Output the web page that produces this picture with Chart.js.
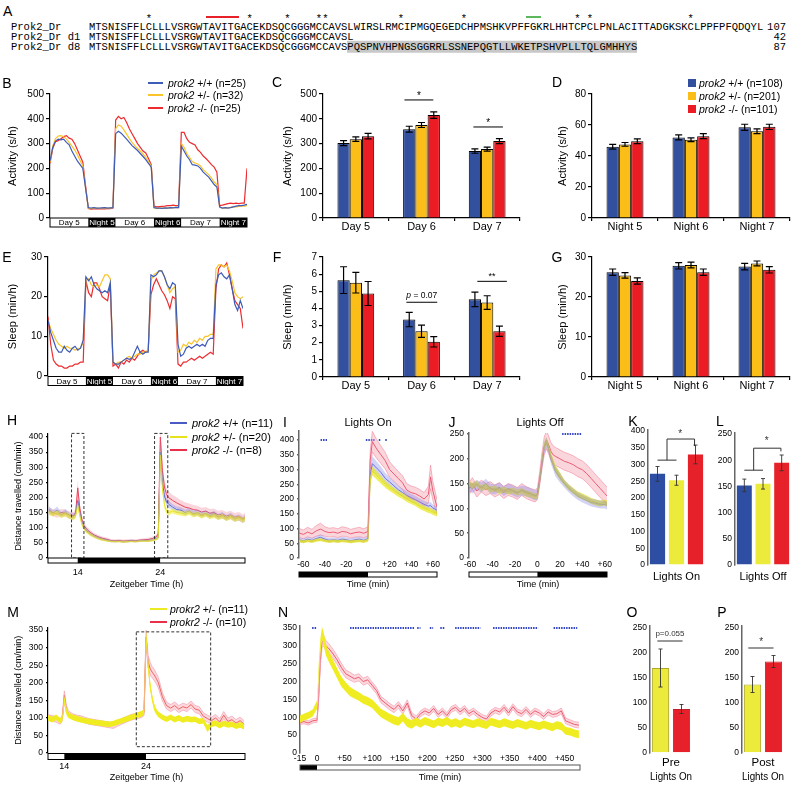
<!DOCTYPE html>
<html>
<head>
<meta charset="utf-8">
<script src="https://cdn.jsdelivr.net/npm/chart.js"></script>
<style>
html, body { margin: 0; padding: 0; background: #fff; }
#fig { position: relative; width: 800px; height: 791px; overflow: hidden; font-family: 'Liberation Sans', Arial, sans-serif; color: #000; }
#fig canvas { position: absolute; }
.t { position: absolute; white-space: nowrap; line-height: 1; }
.seq { position: absolute; font-family: 'Liberation Mono', monospace; font-size: 10.5px; white-space: pre; line-height: 1; transform: translate(0, -50%); }
.sw { position: absolute; }
</style>
</head>
<body>
<div id="fig"></div>
<script>
// ---------- panel A: sequence alignment ----------
const seqNames = ['Prok2_Dr', 'Prok2_Dr d1', 'Prok2_Dr d8'];
const seqRows = [
  'MTSNISFFLCLLLVSRGWTAVITGACEKDSQCGGGMCCAVSLWIRSLRMCIPMGQEGEDCHPMSHKVPFFGKRLHHTCPCLPNLACITTADGKSKCLPPFPFQDQYL',
  'MTSNISFFLCLLLVSRGWTAVITGACEKDSQCGGGMCCAVSL',
  'MTSNISFFLCLLLVSRGWTAVITGACEKDSQCGGGMCCAVSPQSPNVHPNGSGGRRLSSNEPQGTLLWKETPSHVPLLTQLGMHHYS'
];
const seqLens = ['107', '42', '87'];
const greyFrom = [null, null, 41];
const starIdx = [9, 25, 31, 36, 37, 49, 59, 77, 79, 95];
const redMark = [18.6, 23.8];
const greenMark = [69.3, 71.8];

// ---------- B / E: activity and sleep traces (hourly) ----------
const hours = Array.from({ length: 73 }, (_, i) => i);
const bBlue = [230,285,310,318,315,318,305,295,270,250, 230,215,200,120,42,40,42,40,40,41, 42,40,41,42,340,350,342,330,318,305, 292,282,272,260,248,235,220,205,42,40, 40,39,41,40,42,41,43,42,290,270, 250,235,215,213,210,200,185,175,165,150, 135,125,45,40,42,40,42,45,48,50, 50,52,55];
const bYel = [225,290,320,330,332,328,318,305,290,275, 255,232,210,120,40,38,40,40,39,40, 41,40,40,42,360,375,370,355,338,320, 305,292,280,270,258,245,228,210,40,38, 40,40,39,41,40,42,43,42,300,285, 260,245,228,222,218,210,195,185,175,162, 145,135,42,40,40,42,43,45,45,47, 48,48,50];
const bRed = [220,280,308,312,320,328,332,322,318,300, 275,250,225,130,38,36,37,38,37,38, 37,38,38,40,395,410,400,405,385,360, 340,320,300,285,270,262,240,215,48,45, 46,47,48,50,50,52,50,50,345,345, 320,305,300,295,275,265,250,240,228,215, 205,185,50,52,55,58,60,58,60,58, 60,60,200];
const eBlue = [14,11,9,7,6,6,7.5,6.5,6,7, 7.5,6.5,7,9,25,24,25,23,22,21.5, 21,21.5,21,23.5,3.5,3,3,3.5,4,4.5, 4.2,4.5,6,7.5,6,5.5,6,6,25.5,25, 25.5,26.5,26.5,25,23,22,23.5,23,8,5, 5.5,7,7.5,7,7.5,8,7.5,8,7.5,9, 9.5,9.5,23,25.5,26,25,24.5,25.5,22,18, 16.5,19,17];
const eYel = [14,12,10.5,9,8,7.5,7,7.5,7,7, 6.5,7,7,8.5,24,24.5,23,22.5,23,22.5, 24,25.5,25.5,24.5,3.5,3,3.5,3.5,4,4.5, 5,4.5,5,5.5,5.5,6,6,6.5,24,25.5, 26,26.5,26.5,25,23,21,22,22.5,6,6.5, 8,7.5,8.5,8,9,8.5,9.5,9,10,10, 10.5,10.5,27,28,28,27.5,28,26.5,24,21, 20,19.5,20];
const eRed = [15,8,4,3,2.5,2.5,2,2,2.5,2.5, 3,3,3.5,3.5,24,21,20,23.5,23.5,22, 20,19.5,19,23,2.5,3,2,3.5,3,4, 3.5,4.5,4,5,6,6.5,6,6.5,20.5,23, 24.5,23,21.5,20.5,19,17,20,19.5,3,2.5, 3.5,3.5,4,4.5,4,4.5,5,4.5,5,5.5, 6,5.5,22,27,28,27.5,28.5,25.5,22,19, 18,17,12];
const dnEdges = [0, 14, 24, 38, 48, 62, 72];
const dnNames = ['Day 5', 'Night 5', 'Day 6', 'Night 6', 'Day 7', 'Night 7'];
const dnDark = [false, true, false, true, false, true];

// ---------- C / D / F / G: grouped bars ----------
const dayCats = ['Day 5', 'Day 6', 'Day 7'];
const nightCats = ['Night 5', 'Night 6', 'Night 7'];
const cWt = [302, 358, 270], cHet = [318, 375, 278], cMut = [330, 415, 310];
const cWtE = [10, 12, 9], cHetE = [9, 10, 8], cMutE = [11, 13, 10];
const dWt = [46, 52, 58.5], dHet = [47.5, 50.5, 56], dMut = [49.5, 52.8, 58.8];
const dWtE = [1.5, 1.6, 2], dHetE = [1.2, 1.2, 1.5], dMutE = [1.5, 1.6, 1.7];
const fWt = [5.65, 3.35, 4.53], fHet = [5.5, 2.67, 4.34], fMut = [4.87, 2.05, 2.67];
const fWtE = [0.78, 0.42, 0.42], fHetE = [0.6, 0.36, 0.4], fMutE = [0.7, 0.3, 0.3];
const gWt = [26.2, 27.8, 27.6], gHet = [25.4, 28, 28.4], gMut = [24, 26.2, 26.8];
const gWtE = [0.8, 0.8, 0.8], gHetE = [0.7, 0.7, 0.6], gMutE = [0.8, 0.8, 0.8];

// ---------- H: whole-night locomotion (ZT) ----------
const hX = [10.5,11,11.5,12,12.5,13,13.5,13.75,14,14.25,14.5,14.75,15,15.5,16,16.5,17,17.5,18,18.5,19,19.5,20,20.5,21,21.5,22,22.5,23,23.5,23.75,24,24.25,24.5,24.75,25,25.5,26,26.5,27,27.5,28,28.5,29,29.5,30,30.5,31,31.5,32,32.5,33,33.5,34,34.25];
const hBlue = [160,148,158,142,152,140,138,145,190,150, 118,102,92,80,72,66,62,59,56,55, 56,54,55,57,55,57,58,57,60,64, 68,350,250,205,185,178,168,160,158,150, 156,146,150,142,148,140,146,136,142,132, 140,130,134,126,132];
const hYel = [150,145,150,140,145,138,132,140,175,140, 112,98,88,78,70,64,60,57,55,54, 55,53,54,55,54,56,56,56,58,62, 66,340,230,175,155,150,155,150,148,145, 150,142,146,138,144,136,140,134,138,130, 136,128,132,125,130];
const hRed = [155,150,145,150,148,142,140,150,232,165, 128,108,98,85,76,70,65,62,58,57, 58,56,57,58,57,59,60,61,64,70, 80,400,290,235,210,200,190,182,175,168, 165,160,158,152,155,148,150,142,145,138, 142,135,138,130,135];
const hSemB = [12,10,12,10,10,10,10,10,15,12, 10,8,7,6,5,5,5,4,4,4, 4,4,4,4,4,4,4,4,5,5, 6,30,20,15,12,12,10,10,10,10, 10,10,10,10,10,10,10,10,10,10, 10,10,10,10,10];
const hSemY = [8,8,8,8,8,8,8,8,12,10, 8,6,5,5,4,4,4,3,3,3, 3,3,3,3,3,3,3,3,4,4, 5,22,15,12,10,9,8,8,8,8, 8,8,8,8,8,8,8,8,8,8, 8,8,8,8,8];
const hSemR = [12,12,12,12,12,12,12,12,25,15, 12,10,9,8,7,6,6,6,5,5, 5,5,5,5,5,5,5,6,6,7, 8,40,30,25,20,20,18,18,16,16, 15,15,15,14,14,14,14,14,14,14, 14,14,14,14,14];
const hBoxes = [[13.25, 14.75, 0, 412], [23.3, 24.9, 0, 412]];

// ---------- I: lights on window ----------
const iX = [-64,-60,-56,-52,-48,-44,-40,-36,-32,-28,-24,-20,-16,-12,-8,-4,0,2,4,8,12,16,20,24,28,32,36,40,44,48,52,56,58,60,64];
const iRed = [85,80,88,82,92,98,90,86,88,84, 90,88,82,86,88,84,90,330,395,370, 350,330,300,285,270,255,230,222,218,210, 200,215,275,230,172];
const iBlue = [62,58,64,60,66,70,64,60,62,60, 64,62,58,62,64,60,66,280,320,305, 290,270,258,245,232,222,212,205,198,190, 182,176,178,170,162];
const iYel = [58,55,58,56,60,62,58,56,58,56, 58,57,55,57,58,56,60,260,295,280, 265,250,238,228,218,210,200,192,185,175, 168,162,160,156,150];
const iSemR = [15,15,16,15,18,20,16,15,15,15, 16,15,15,15,16,15,16,30,35,32, 30,28,26,25,24,24,22,22,22,22, 22,28,40,32,25];
const iSemB = [8,8,8,8,8,10,8,8,8,8, 8,8,8,8,8,8,8,20,25,22, 20,18,16,15,14,14,14,13,13,12, 12,12,12,12,12];
const iSemY = [5,5,5,5,5,5,5,5,5,5, 5,5,5,5,5,5,5,12,15,14, 13,12,11,10,10,10,10,9,9,9, 9,9,9,9,9];
const iSig = [[-44, -38], [-2, 6], [10, 12], [16, 18]];
const iTicks = [-60, -40, -20, 0, 20, 40, 60];
const iTickText = ['-60', '-40', '-20', '0', '+20', '+40', '+60'];

// ---------- J: lights off window ----------
const jX = [-61,-58,-54,-50,-46,-42,-38,-34,-30,-26,-22,-18,-14,-10,-6,-2,0,2,4,6,8,10,12,14,16,20,24,28,32,36,40,44,48,52,56,60,62];
const jRed = [140,150,135,145,138,142,135,140,132,138, 135,130,138,132,128,125,130,160,195,225, 238,228,215,208,205,200,195,192,188,182, 178,170,160,150,140,130,125];
const jBlue = [145,140,148,142,150,140,138,142,135,140, 136,132,136,134,130,126,128,155,190,222, 232,220,200,188,175,162,150,140,132,125, 120,116,112,110,108,108,106];
const jYel = [150,145,150,140,145,138,140,135,138,134, 136,132,135,130,128,124,126,155,192,225, 235,222,205,192,180,165,152,142,135,128, 124,120,115,112,110,112,110];
const jSemR = [12,12,12,12,12,12,12,12,12,12, 12,12,12,12,12,12,12,14,16,18, 18,18,18,18,18,18,18,18,18,18, 18,18,18,18,18,18,18];
const jSemB = [10,10,10,10,10,10,10,10,10,10, 10,10,10,10,10,10,10,10,12,12, 12,10,10,10,10,10,8,8,8,8, 8,8,8,8,8,8,8];
const jSemY = [6,6,6,6,6,6,6,6,6,6, 6,6,6,6,6,6,6,8,8,8, 8,8,8,8,8,8,6,6,6,6, 6,6,6,6,6,6,6];
const jSig = [[22, 39]];
const jTicks = [-60, -40, -20, 0, 20, 40, 60];
const jTickText = ['-60', '-40', '-20', '0', '20', '+40', '+60'];

// ---------- K / L: window means ----------
const kCats = ['+/+', '+/-', '-/-'];
const kVals = [272, 253, 330], kErr = [22, 15, 28];
const lVals = [152, 155, 195], lErr = [12, 10, 15];

// ---------- M: prokr2 whole night ----------
const mX = [12,12.5,13,13.5,13.75,14,14.25,14.5,15,15.5,16,16.5,17,17.5,18,18.5,19,19.5,20,20.5,21,21.5,22,22.5,23,23.5,23.75,24,24.25,24.5,24.75,25,25.25,25.5,26,26.5,27,27.5,28,28.5,29,29.5,30,30.5,31,31.5,32,32.5,33,33.5,34,34.5,35,35.5,36];
const mYel = [100,95,102,92,98,150,120,108,102,98, 95,92,90,88,86,85,83,82,84,88, 92,96,100,104,108,112,118,330,250,190, 155,130,118,110,102,96,102,95,100,94, 98,95,96,90,92,70,82,85,78,84, 80,82,76,80,75];
const mRed = [102,98,96,90,100,165,125,112,104,100, 98,94,90,88,86,84,82,80,78,84, 90,95,100,104,106,110,115,330,260,240, 230,222,212,200,160,135,128,135,125,132, 128,138,125,122,105,98,92,100,88,108, 90,95,85,92,82];
const mSemY = [8,8,8,8,8,12,10,8,8,8, 8,8,8,8,8,8,8,8,8,8, 8,8,8,8,8,8,8,20,15,12, 10,10,8,8,8,8,8,8,8,8, 8,8,8,8,8,10,8,8,8,8, 8,8,8,8,8];
const mSemR = [8,8,8,8,8,12,10,8,8,8, 8,8,8,8,8,8,8,8,8,8, 8,8,8,8,8,8,8,20,18,18, 16,16,15,15,12,10,10,10,10,10, 10,10,10,10,10,10,10,10,10,10, 10,10,10,10,10];
const mBoxes = [[22.8, 31.9, 18, 345]];

// ---------- N: prokr2 after lights on ----------
const nX = [-31,-24,-16,-8,0,3,6,9,12,16,20,28,36,44,52,60,68,76,84,92,100,108,116,124,132,140,148,156,164,172,180,188,196,204,212,220,228,236,244,252,260,268,276,284,292,300,308,316,324,332,340,348,356,364,372,380,388,396,404,412,420,428,436,444,452,460,468,476];
const nRed = [85,88,84,90,92,160,260,310,315,300, 295,280,262,240,222,215,208,212,200,205, 190,175,150,140,130,122,135,118,140,105, 95,110,118,112,125,108,118,105,122,128, 115,125,110,118,108,100,95,112,120,115, 128,112,130,115,110,122,108,118,112,102, 115,108,110,118,90,85,80,78];
const nYel = [95,100,105,112,135,230,300,335,320,290, 275,250,225,200,185,172,165,158,150,145, 138,125,112,105,98,92,88,100,85,80, 88,82,90,85,80,88,84,90,82,86, 80,88,84,80,86,82,78,88,84,80, 86,82,78,84,80,76,82,78,75,80, 76,72,78,75,62,60,55,52];
const nSemR = [6,6,6,6,6,12,15,15,15,14, 14,13,12,12,11,11,10,10,10,10, 9,9,9,9,9,9,9,9,9,9, 8,8,8,8,8,8,8,8,8,8, 8,8,8,8,8,8,8,8,8,8, 8,8,8,8,8,8,8,8,8,8, 8,8,8,8,8,8,8,8];
const nSemY = [10,10,10,10,12,20,20,18,18,16, 15,15,14,14,13,13,12,12,12,12, 12,12,12,12,12,12,12,12,12,12, 11,11,11,11,11,11,11,11,11,11, 11,11,11,11,11,11,11,11,11,11, 11,11,11,11,11,11,11,11,11,11, 11,11,11,11,11,11,11,11];
const nSig = [[-9, 0], [60, 178], [182, 188], [205, 211], [224, 233], [251, 297], [320, 402], [430, 473]];
const nTicks = [-31, 0, 50, 100, 150, 200, 250, 300, 350, 400, 450];
const nTickText = ['-15', '0', '+50', '+100', '+150', '+200', '+250', '+300', '+350', '+400', '+450'];

// ---------- O / P ----------
const opCats = ['+/-', '-/-'];
const oVals = [170, 88], oErr = [38, 9];
const pVals = [137, 183], pErr = [16, 12];

// ---------- colours / fonts ----------
const FONT = "'Liberation Sans', Arial, sans-serif";
const NARROW = "'Liberation Sans Narrow', 'Liberation Sans', Arial, sans-serif";
const BLUE = '#33509f', GOLD = '#fbbd18', RED = '#ec1c24';
const LBLUE = '#3d5bb8', LYEL = '#f9c52a', LRED = '#ee2b2f';
const TBLUE = '#2d4ea3', TYEL = '#ecea3a', TRED = '#e62129';

Chart.defaults.font.family = FONT;
Chart.defaults.color = '#000';

const fig = document.getElementById('fig');

function txt(x, y, html, size, align, css) {
  const d = document.createElement('div');
  d.className = 't';
  d.innerHTML = html;
  d.style.left = x + 'px';
  d.style.top = y + 'px';
  d.style.fontSize = size + 'px';
  const tx = align === 'c' ? '-50%' : align === 'r' ? '-100%' : '0';
  d.style.transform = `translate(${tx},-50%)`;
  if (css) d.style.cssText += css;
  fig.appendChild(d);
}

function swatch(x, y, w, h, color) {
  const d = document.createElement('div');
  d.className = 'sw';
  d.style.cssText = `left:${x}px;top:${y - h / 2}px;width:${w}px;height:${h}px;background:${color}`;
  fig.appendChild(d);
}

// ---------- Chart helpers ----------
Chart.register({
  id: 'errBars',
  afterDatasetsDraw(chart) {
    const ctx = chart.ctx, ys = chart.scales.y;
    chart.data.datasets.forEach((ds, di) => {
      if (!ds.err) return;
      const meta = chart.getDatasetMeta(di);
      ctx.save();
      ctx.strokeStyle = ds.errColor || '#000';
      ctx.lineWidth = ds.errWidth || 1;
      meta.data.forEach((el, i) => {
        const top = ys.getPixelForValue(ds.data[i] + ds.err[i]);
        const bot = ys.getPixelForValue(ds.data[i] - ds.err[i]);
        const c = ds.errCap || 3;
        ctx.beginPath();
        ctx.moveTo(el.x, top); ctx.lineTo(el.x, bot);
        ctx.moveTo(el.x - c, top); ctx.lineTo(el.x + c, top);
        ctx.moveTo(el.x - c, bot); ctx.lineTo(el.x + c, bot);
        ctx.stroke();
      });
      ctx.restore();
    });
  }
});

function makeChart(p, config) {
  const left = Math.floor(p.l - p.yw), top = Math.floor(p.t - p.pt);
  const w = Math.ceil(p.r + p.pr) - left, h = Math.ceil(p.b + p.xh) - top;
  const c = document.createElement('canvas');
  c.width = w; c.height = h;
  c.style.left = left + 'px'; c.style.top = top + 'px';
  c.style.width = w + 'px'; c.style.height = h + 'px';
  fig.appendChild(c);
  const yw = p.l - left, pt = p.t - top, pr = w - (p.r - left), xh = h - (p.b - top);
  const o = config.options;
  o.responsive = false;
  o.animation = false;
  o.layout = { autoPadding: false, padding: { top: pt, right: pr, left: 0, bottom: 0 } };
  o.plugins = { legend: { display: false }, tooltip: { enabled: false } };
  const sy = o.scales.y, sx = o.scales.x;
  sy.afterFit = s => { s.width = yw; s.paddingTop = 0; s.paddingBottom = 0; };
  sx.afterFit = s => { s.height = xh; s.paddingLeft = 0; s.paddingRight = 0; };
  if (p.tx !== undefined) {
    const lh = sy.title.font.size * 1.2;
    sy.title.padding = { top: p.tx - left - lh / 2, bottom: 0 };
  }
  if (p.xty !== undefined) {
    const lh = sx.title.font.size * 1.2;
    const n = Array.isArray(sx.title.text) ? sx.title.text.length : 1;
    sx.title.padding = { top: 0, bottom: top + h - p.xty - lh / 2 - lh * (n - 1) };
  }
  return new Chart(c, config);
}

function yAx(min, max, step, o = {}) {
  return {
    min, max,
    border: { display: true, color: o.ac || '#000', width: o.aw || 1.2 },
    grid: { drawOnChartArea: false, drawTicks: true, tickLength: o.tl ?? 4, color: o.ac || '#000', lineWidth: o.aw || 1.2 },
    ticks: { stepSize: step, includeBounds: false, padding: o.tp ?? 2, color: '#000', font: { size: o.fs || 10, family: o.ff || FONT } },
    // keep ticks on whole multiples of the step, even when max is a little above the last one
    afterBuildTicks: sc => {
      const t = [];
      for (let v = min; v <= max + 1e-9; v += step) t.push({ value: Math.round(v * 1000) / 1000 });
      sc.ticks = t;
    },
    title: o.title
      ? { display: true, text: o.title, color: '#000', font: { size: o.tfs || 11, family: o.tff || FONT } }
      : { display: false }
  };
}

function xLin(min, max, ticks, labels, o = {}) {
  const s = {
    type: 'linear', min, max,
    border: { display: false },
    grid: { display: false, drawTicks: false, tickLength: 0 },
    ticks: {
      display: !!ticks, padding: o.tp || 0, autoSkip: false, maxRotation: 0, color: '#000',
      font: { size: o.fs || 9, lineHeight: 1, family: o.ff || FONT },
      callback: (v, i) => (labels ? labels[i] : v)
    },
    title: o.title
      ? { display: true, text: o.title, color: '#000', font: { size: o.tfs || 9 } }
      : { display: false }
  };
  if (ticks) s.afterBuildTicks = sc => { sc.ticks = ticks.map(v => ({ value: v })); };
  return s;
}

function xCat(o = {}) {
  return {
    type: 'category', offset: true,
    border: { display: o.axis !== false, color: '#000', width: 1.2 },
    grid: { display: o.axis !== false, offset: true, drawOnChartArea: false, drawTicks: o.axis !== false, tickLength: 3, color: '#000', lineWidth: 1.2 },
    ticks: { display: o.title ? false : true, padding: 0, color: '#000', font: { size: 11, lineHeight: 1 } },
    title: o.title
      ? { display: true, text: o.title, color: '#000', font: { size: o.tfs || 11 } }
      : { display: false }
  };
}

const pts = (xs, ys) => xs.map((x, i) => ({ x, y: ys[i] }));
const line = (xs, ys, color, w = 1.2) => ({ data: pts(xs, ys), borderColor: color, borderWidth: w, pointRadius: 0, fill: false, tension: 0 });
function band(xs, m, s, fillCol, edgeCol) {
  const ew = edgeCol ? 0.7 : 0;
  return [
    { data: xs.map((x, i) => ({ x, y: m[i] - s[i] })), borderColor: edgeCol || 'rgba(0,0,0,0)', borderWidth: ew, pointRadius: 0, fill: false },
    { data: xs.map((x, i) => ({ x, y: m[i] + s[i] })), borderColor: edgeCol || 'rgba(0,0,0,0)', borderWidth: ew, pointRadius: 0, fill: '-1', backgroundColor: fillCol }
  ];
}
function sigMarks(list, v) {
  return {
    data: list.flatMap(([a, b]) => [{ x: a, y: v }, { x: b, y: v }, { x: b, y: null }]),
    borderColor: '#3346c0', borderWidth: 2, borderDash: [1.5, 1], pointRadius: 0, fill: false, spanGaps: false
  };
}
const groupBar = (vals, errs, col) => ({
  data: vals, err: errs, backgroundColor: col, borderColor: '#000', borderWidth: 1,
  categoryPercentage: 0.56, barPercentage: 1, errCap: 3.5, errWidth: 1.2
});

function lightBar(edges, dark, names, o) {
  return {
    id: 'lightBar',
    afterDraw(chart) {
      const ctx = chart.ctx, xs = chart.scales.x, y0 = chart.chartArea.bottom + o.off;
      ctx.save();
      for (let i = 0; i < dark.length; i++) {
        const a = xs.getPixelForValue(edges[i]), b = xs.getPixelForValue(edges[i + 1]);
        ctx.fillStyle = dark[i] ? '#000' : '#fff';
        ctx.fillRect(a, y0, b - a, o.h);
        if (names) {
          ctx.fillStyle = dark[i] ? '#fff' : '#000';
          ctx.font = `${o.fs}px ${FONT}`;
          ctx.textAlign = 'center';
          ctx.textBaseline = 'middle';
          ctx.fillText(names[i], (a + b) / 2, y0 + o.h / 2 + 0.5);
        }
      }
      const a0 = xs.getPixelForValue(edges[0]), a1 = xs.getPixelForValue(edges[edges.length - 1]);
      ctx.strokeStyle = o.stroke || '#000';
      ctx.lineWidth = 1;
      ctx.strokeRect(a0, y0, a1 - a0, o.h);
      ctx.restore();
    }
  };
}

function boxPlug(boxes) {
  return {
    id: 'boxes',
    afterDatasetsDraw(chart) {
      const ctx = chart.ctx, xs = chart.scales.x, ys = chart.scales.y;
      ctx.save();
      ctx.setLineDash([3, 2]);
      ctx.strokeStyle = '#333';
      ctx.lineWidth = 1;
      boxes.forEach(([x0, x1, y0, y1]) => {
        const a = xs.getPixelForValue(x0), b = xs.getPixelForValue(x1);
        const c = ys.getPixelForValue(y1), d = ys.getPixelForValue(y0);
        ctx.strokeRect(a, c, b - a, d - c);
      });
      ctx.restore();
    }
  };
}

// significance line above a bar group: c = category, a/b = offsets in category widths
function sigPlug(items) {
  return {
    id: 'sig',
    afterDatasetsDraw(chart) {
      const ctx = chart.ctx, xs = chart.scales.x, ys = chart.scales.y;
      const cw = xs.getPixelForValue(1) - xs.getPixelForValue(0);
      ctx.save();
      ctx.strokeStyle = '#000';
      ctx.fillStyle = '#000';
      ctx.lineWidth = 1;
      items.forEach(s => {
        const cx = xs.getPixelForValue(s.c), y = ys.getPixelForValue(s.v);
        ctx.beginPath();
        ctx.moveTo(cx + s.a * cw, y);
        ctx.lineTo(cx + s.b * cw, y);
        ctx.stroke();
        const tx = cx + ((s.a + s.b) / 2) * cw, ty = y - s.dy;
        ctx.textBaseline = 'middle';
        let total = 0;
        const widths = s.parts.map(([t, it]) => {
          ctx.font = `${it ? 'italic ' : ''}${s.fs}px ${FONT}`;
          const wd = ctx.measureText(t).width;
          total += wd;
          return wd;
        });
        let x = tx - total / 2;
        ctx.textAlign = 'left';
        s.parts.forEach(([t, it], k) => {
          ctx.font = `${it ? 'italic ' : ''}${s.fs}px ${FONT}`;
          ctx.fillText(t, x, ty);
          x += widths[k];
        });
      });
      ctx.restore();
    }
  };
}

// bracket polylines in (category index, value) space
function bracketPlug(paths, texts) {
  return {
    id: 'bracket',
    afterDatasetsDraw(chart) {
      const ctx = chart.ctx, xs = chart.scales.x, ys = chart.scales.y;
      ctx.save();
      ctx.strokeStyle = '#333';
      ctx.fillStyle = '#333';
      ctx.lineWidth = 1;
      paths.forEach(path => {
        ctx.beginPath();
        path.forEach(([c, v], i) => {
          const x = xs.getPixelForValue(c), y = ys.getPixelForValue(v);
          if (i === 0) ctx.moveTo(x, y); else ctx.lineTo(x, y);
        });
        ctx.stroke();
      });
      texts.forEach(([c, v, t, fs]) => {
        ctx.font = `${fs}px ${FONT}`;
        ctx.textAlign = 'center';
        ctx.textBaseline = 'middle';
        ctx.fillText(t, xs.getPixelForValue(c), ys.getPixelForValue(v));
      });
      ctx.restore();
    }
  };
}

// ---------- Panel A (HTML text) ----------
txt(3, 11, 'A', 14, 'l');
const SEQX = 89;
const rowY = [27, 37, 47];
const stars = Array.from({ length: 107 }, (_, i) => (starIdx.includes(i) ? '*' : ' ')).join('');
const starDiv = document.createElement('div');
starDiv.className = 'seq';
starDiv.style.left = SEQX + 'px';
starDiv.style.top = '19px';
starDiv.textContent = stars;
fig.appendChild(starDiv);
[[redMark, '#e8202a'], [greenMark, '#5cb85c']].forEach(([m, col]) => {
  const d = document.createElement('div');
  d.className = 'seq';
  d.style.left = SEQX + 'px';
  d.style.top = '16px';
  d.innerHTML = `<span style="position:absolute;left:${m[0]}ch;width:${m[1] - m[0]}ch;top:0;height:2px;background:${col}"></span>`;
  fig.appendChild(d);
});
seqRows.forEach((s, r) => {
  const nm = document.createElement('div');
  nm.className = 'seq';
  nm.style.left = '11px';
  nm.style.top = rowY[r] + 'px';
  nm.textContent = seqNames[r];
  fig.appendChild(nm);
  const sq = document.createElement('div');
  sq.className = 'seq';
  sq.style.left = SEQX + 'px';
  sq.style.top = rowY[r] + 'px';
  if (greyFrom[r] !== null) {
    sq.innerHTML = s.slice(0, greyFrom[r]) + '<span style="background:#c8c8c8">' + s.slice(greyFrom[r]) + '</span>';
  } else {
    sq.textContent = s;
  }
  fig.appendChild(sq);
  const ln = document.createElement('div');
  ln.className = 'seq';
  ln.style.left = '786px';
  ln.style.top = rowY[r] + 'px';
  ln.style.transform = 'translate(-100%,-50%)';
  ln.textContent = seqLens[r];
  fig.appendChild(ln);
});

// ---------- B ----------
makeChart({ l: 50, t: 94, r: 247, b: 218, yw: 50, pt: 8, pr: 4, xh: 12, tx: 13 }, {
  type: 'line',
  data: { datasets: [line(hours, bBlue, LBLUE), line(hours, bYel, LYEL), line(hours, bRed, LRED)] },
  options: { scales: { x: xLin(0, 72, null, null), y: yAx(0, 500, 100, { title: 'Activity (s/h)' }) } },
  plugins: [lightBar(dnEdges, dnDark, dnNames, { off: 0, h: 9, fs: 8 })]
});

// ---------- C ----------
makeChart({ l: 323, t: 94, r: 520, b: 218, yw: 53, pt: 8, pr: 5, xh: 18, tx: 288 }, {
  type: 'bar',
  data: { labels: dayCats, datasets: [groupBar(cWt, cWtE, BLUE), groupBar(cHet, cHetE, GOLD), groupBar(cMut, cMutE, RED)] },
  options: { scales: { x: xCat(), y: yAx(0, 500, 100, { title: 'Activity (s/h)' }) } },
  plugins: [sigPlug([
    { c: 1, a: -0.26, b: 0.18, v: 476, dy: 4, fs: 10, parts: [['*', false]] },
    { c: 2, a: -0.21, b: 0.24, v: 367, dy: 4, fs: 10, parts: [['*', false]] }
  ])]
});

// ---------- D ----------
makeChart({ l: 592, t: 94, r: 790, b: 218, yw: 52, pt: 8, pr: 5, xh: 18, tx: 563 }, {
  type: 'bar',
  data: { labels: nightCats, datasets: [groupBar(dWt, dWtE, BLUE), groupBar(dHet, dHetE, GOLD), groupBar(dMut, dMutE, RED)] },
  options: { scales: { x: xCat(), y: yAx(0, 80, 20, { title: 'Activity (s/h)' }) } }
});

// ---------- E ----------
makeChart({ l: 48, t: 257, r: 243, b: 376, yw: 48, pt: 8, pr: 4, xh: 12, tx: 13 }, {
  type: 'line',
  data: { datasets: [line(hours, eBlue, LBLUE), line(hours, eYel, LYEL), line(hours, eRed, LRED)] },
  options: { scales: { x: xLin(0, 72, null, null), y: yAx(0, 30, 10, { title: 'Sleep (min/h)' }) } },
  plugins: [lightBar(dnEdges, dnDark, dnNames, { off: 0.5, h: 9, fs: 8 })]
});

// ---------- F ----------
makeChart({ l: 323, t: 257, r: 520, b: 377, yw: 53, pt: 8, pr: 5, xh: 18, tx: 288 }, {
  type: 'bar',
  data: { labels: dayCats, datasets: [groupBar(fWt, fWtE, BLUE), groupBar(fHet, fHetE, GOLD), groupBar(fMut, fMutE, RED)] },
  options: { scales: { x: xCat(), y: yAx(0, 7, 1, { title: 'Sleep (min/h)' }) } },
  plugins: [sigPlug([
    { c: 1, a: -0.23, b: 0.24, v: 4.36, dy: 7, fs: 8.5, parts: [['p', true], [' = 0.07', false]] },
    { c: 2, a: -0.15, b: 0.3, v: 5.58, dy: 5, fs: 9, parts: [['**', false]] }
  ])]
});

// ---------- G ----------
makeChart({ l: 592, t: 257, r: 790, b: 377, yw: 52, pt: 8, pr: 5, xh: 18, tx: 563 }, {
  type: 'bar',
  data: { labels: nightCats, datasets: [groupBar(gWt, gWtE, BLUE), groupBar(gHet, gHetE, GOLD), groupBar(gMut, gMutE, RED)] },
  options: { scales: { x: xCat(), y: yAx(0, 30, 10, { title: 'Sleep (min/h)' }) } }
});

// ---------- H ----------
const smallY = { fs: 8.5, ff: NARROW, tl: 2, tp: 3 };
makeChart({ l: 48, t: 434, r: 245, b: 558, yw: 48, pt: 8, pr: 4, xh: 34, tx: 19, xty: 585 }, {
  type: 'line',
  data: { datasets: [
    ...band(hX, hYel, hSemY, 'rgba(240,236,40,0.55)'),
    ...band(hX, hBlue, hSemB, 'rgba(125,135,230,0.35)'),
    ...band(hX, hRed, hSemR, 'rgba(240,120,140,0.3)'),
    line(hX, hYel, '#e6e21c', 1), line(hX, hBlue, '#4a5cc4', 1), line(hX, hRed, '#e8304a', 1)
  ] },
  options: { scales: {
    x: xLin(10.4, 34.25, [14, 24], ['14', '24'], { tp: 10.5, title: 'Zeitgeber Time (h)' }),
    y: yAx(0, 410, 50, Object.assign({ title: 'Distance travelled (cm/min)', tfs: 9 }, smallY))
  } },
  plugins: [boxPlug(hBoxes), lightBar([10.4, 14, 24, 34.25], [false, true, false], null, { off: 0, h: 5 })]
});

// ---------- I ----------
makeChart({ l: 299, t: 431.2, r: 437, b: 558, yw: 29, pt: 8, pr: 8, xh: 34, xty: 585 }, {
  type: 'line',
  data: { datasets: [
    ...band(iX, iYel, iSemY, 'rgba(232,230,30,0.7)'),
    ...band(iX, iBlue, iSemB, 'rgba(130,130,235,0.35)'),
    ...band(iX, iRed, iSemR, 'rgba(240,120,140,0.3)', 'rgba(240,130,150,0.8)'),
    line(iX, iYel, '#d8d820', 1), line(iX, iBlue, '#6070d0', 1), line(iX, iRed, '#e8506a', 1),
    sigMarks(iSig, 400)
  ] },
  options: { scales: {
    x: xLin(-64, 64, iTicks, iTickText, { tp: 2.75, fs: 8.5, ff: NARROW, title: 'Time (min)' }),
    y: yAx(0, 430, 50, Object.assign({ ac: '#666', aw: 1.5 }, smallY))
  } },
  plugins: [lightBar([-64, 0, 64], [true, false], null, { off: 14, h: 5 })]
});

// ---------- J ----------
makeChart({ l: 469, t: 433, r: 607, b: 558, yw: 24, pt: 8, pr: 8, xh: 34, xty: 585 }, {
  type: 'line',
  data: { datasets: [
    ...band(jX, jBlue, jSemB, 'rgba(130,130,235,0.35)'),
    ...band(jX, jYel, jSemY, 'rgba(232,230,30,0.7)'),
    ...band(jX, jRed, jSemR, 'rgba(240,120,140,0.3)', 'rgba(240,130,150,0.8)'),
    line(jX, jBlue, '#6070d0', 1), line(jX, jYel, '#d8d820', 1), line(jX, jRed, '#e8506a', 1),
    sigMarks(jSig, 250)
  ] },
  options: { scales: {
    x: xLin(-61, 62, jTicks, jTickText, { tp: 2.75, fs: 8.5, ff: NARROW, title: 'Time (min)' }),
    y: yAx(0, 252, 50, Object.assign({ ac: '#666', aw: 1.5 }, smallY))
  } },
  plugins: [lightBar([-61, 0, 62], [false, true], null, { off: 14, h: 5 })]
});

// ---------- K ----------
const triBar = (vals, errs) => ({
  data: vals, err: errs, backgroundColor: [TBLUE, TYEL, TRED],
  barPercentage: 0.8, categoryPercentage: 1, errColor: '#333', errCap: 2, errWidth: 0.9
});
makeChart({ l: 648, t: 429.3, r: 705, b: 565, yw: 26, pt: 6, pr: 3, xh: 19, xty: 577 }, {
  type: 'bar',
  data: { labels: kCats, datasets: [triBar(kVals, kErr)] },
  options: { scales: { x: xCat({ axis: false, title: 'Lights On' }), y: yAx(0, 405, 50, Object.assign({ ac: '#666', aw: 1.5 }, smallY, { tl: 0 })) } },
  plugins: [bracketPlug(
    [[[0, 313], [1, 313]], [[0.5, 313], [0.5, 376], [1.95, 376], [1.95, 355]]],
    [[1.2, 390, '*', 10]]
  )]
});

// ---------- L ----------
makeChart({ l: 735, t: 433, r: 791, b: 565, yw: 23, pt: 6, pr: 4, xh: 19, xty: 577 }, {
  type: 'bar',
  data: { labels: kCats, datasets: [triBar(lVals, lErr)] },
  options: { scales: { x: xCat({ axis: false, title: 'Lights Off' }), y: yAx(0, 252, 50, Object.assign({ ac: '#666', aw: 1.5 }, smallY, { tl: 0 })) } },
  plugins: [bracketPlug(
    [[[0, 181], [1, 181]], [[0.5, 181], [0.5, 223], [1.96, 223], [1.96, 217]]],
    [[1.2, 236, '*', 10]]
  )]
});

// ---------- M ----------
makeChart({ l: 48, t: 627.3, r: 245, b: 753, yw: 48, pt: 8, pr: 4, xh: 32, tx: 19, xty: 778 }, {
  type: 'line',
  data: { datasets: [
    ...band(mX, mYel, mSemY, '#f0ec22'),
    ...band(mX, mRed, mSemR, 'rgba(245,140,160,0.35)', '#f4a0b0'),
    line(mX, mYel, '#f0d020', 1), line(mX, mRed, '#e8503a', 1)
  ] },
  options: { scales: {
    x: xLin(12, 36.1, [14, 24], ['14', '24'], { tp: 9.5, title: 'Zeitgeber Time (h)' }),
    y: yAx(0, 358, 50, Object.assign({ title: 'Distance travelled (cm/min)', tfs: 9 }, smallY))
  } },
  plugins: [boxPlug(mBoxes), lightBar([12, 14, 24, 36.1], [false, true, false], null, { off: 0.5, h: 6 })]
});

// ---------- N ----------
makeChart({ l: 300, t: 625.9, r: 580, b: 753, yw: 25, pt: 8, pr: 10, xh: 32, xty: 778 }, {
  type: 'line',
  data: { datasets: [
    ...band(nX, nYel, nSemY, '#f0ec22'),
    ...band(nX, nRed, nSemR, 'rgba(245,140,160,0.35)', '#f4a0b0'),
    line(nX, nRed, '#e84050', 1),
    sigMarks(nSig, 350)
  ] },
  options: { scales: {
    x: xLin(-31, 478, nTicks, nTickText, { tp: 1.75, fs: 8.5, ff: NARROW, title: 'Time (min)' }),
    y: yAx(0, 356, 50, Object.assign({ ac: '#666', aw: 1.5 }, smallY, { tl: 0 }))
  } },
  plugins: [lightBar([-31, 0, 478], [true, false], null, { off: 12, h: 5, stroke: '#555' })]
});

// ---------- O / P ----------
const duoBar = (vals, errs) => ({
  data: vals, err: errs, backgroundColor: [TYEL, TRED], borderColor: ['#b0a82a', '#c0202a'], borderWidth: 1,
  barPercentage: 0.82, categoryPercentage: 1, errColor: '#333', errCap: 2, errWidth: 0.9
});
makeChart({ l: 650, t: 626, r: 692, b: 753, yw: 25, pt: 6, pr: 6, xh: 31, xty: 763 }, {
  type: 'bar',
  data: { labels: opCats, datasets: [duoBar(oVals, oErr)] },
  options: { scales: { x: xCat({ axis: false, title: ['Pre', 'Lights On'], tfs: 11.5 }), y: yAx(0, 254, 50, Object.assign({ ac: '#666', aw: 1.5 }, smallY, { tl: 0 })) } },
  plugins: [bracketPlug([[[-0.15, 224], [1.05, 224]]], [[0.45, 238, 'p=0.055', 8]])]
});
makeChart({ l: 742, t: 626, r: 784, b: 753, yw: 27, pt: 6, pr: 8, xh: 31, xty: 763 }, {
  type: 'bar',
  data: { labels: opCats, datasets: [duoBar(pVals, pErr)] },
  options: { scales: { x: xCat({ axis: false, title: ['Post', 'Lights On'], tfs: 11.5 }), y: yAx(0, 254, 50, Object.assign({ ac: '#666', aw: 1.5 }, smallY, { tl: 0 })) } },
  plugins: [bracketPlug([[[-0.2, 210], [1.0, 210]]], [[0.42, 221, '*', 10]])]
});

// ---------- panel letters, titles and legends ----------
[['B', 7, 83], ['C', 277, 82], ['D', 557, 82], ['E', 7, 257], ['F', 277, 257], ['G', 557, 257],
 ['H', 12, 420], ['I', 285, 422], ['J', 452, 422], ['K', 633, 421], ['L', 720, 421],
 ['M', 13, 612], ['N', 283, 612], ['O', 632, 612], ['P', 722, 612]].forEach(([t, x, y]) => txt(x, y, t, 14, 'c'));
txt(368, 422, 'Lights On', 11, 'c');
txt(540, 422, 'Lights Off', 11, 'c');

const bLegend = ['+/+ (n=25)', '+/- (n=32)', '-/- (n=25)'];
const dLegend = ['+/+ (n=108)', '+/- (n=201)', '-/- (n=101)'];
const hLegend = ['+/+ (n=11)', '+/- (n=20)', '-/- (n=8)'];
const mLegend = ['+/- (n=11)', '-/- (n=10)'];
[LBLUE, LYEL, LRED].forEach((c, i) => {
  const y = [83, 95, 108][i];
  swatch(148, y, 15, 1.6, c);
  txt(168, y, '<i>prok2</i> ' + bLegend[i], 10.5, 'l');
});
[BLUE, GOLD, RED].forEach((c, i) => {
  const y = [83, 96, 109][i];
  swatch(688, y, 8, 8, c);
  txt(699, y, '<i>prok2</i> ' + dLegend[i], 10.5, 'l');
});
['#4a5cc4', '#e6e21c', '#e8304a'].forEach((c, i) => {
  const y = [423, 437, 450][i];
  swatch(170, y, 17, 1.6, c);
  txt(192, y, '<i>prok2</i> ' + hLegend[i], 11, 'l');
});
['#ecea22', '#e8304a'].forEach((c, i) => {
  const y = [609, 622][i];
  swatch(150, y, 17, 1.6, c);
  txt(170, y, '<i>prokr2</i> ' + mLegend[i], 10.5, 'l');
});
</script>
</body>
</html>
